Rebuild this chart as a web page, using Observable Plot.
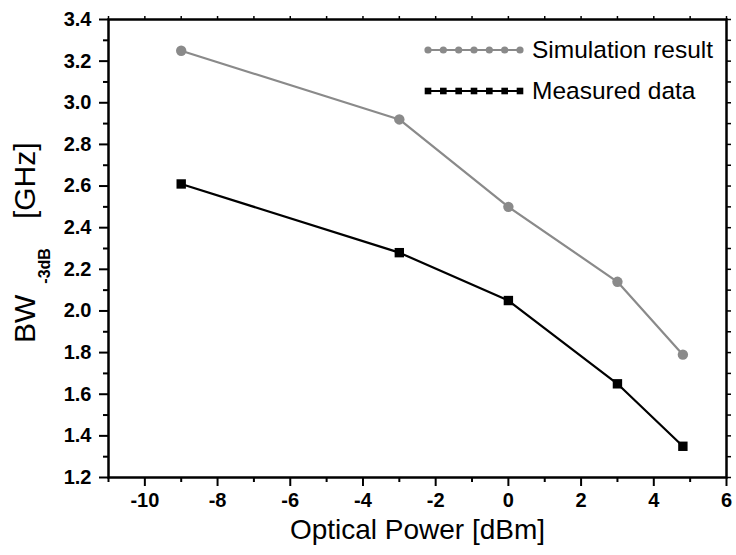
<!DOCTYPE html>
<html>
<head>
<meta charset="utf-8">
<script src="https://cdn.jsdelivr.net/npm/d3@7"></script>
<script src="https://cdn.jsdelivr.net/npm/@observablehq/plot@0.6"></script>
<style>
  html, body { margin: 0; padding: 0; background: #fff; }
  #chart svg { display: block; }
</style>
</head>
<body>
<div id="chart"></div>
<script>
// ---- data ----
const opticalPower = [-9, -3, 0, 3, 4.8];
const simulationResult = [3.25, 2.92, 2.50, 2.14, 1.79];
const measuredData = [2.61, 2.28, 2.05, 1.65, 1.35];
const seriesNames = ["Simulation result", "Measured data"];
const xMajorTicks = [-10, -8, -6, -4, -2, 0, 2, 4, 6];
const xMinorTicks = [-11, -9, -7, -5, -3, -1, 1, 3, 5];
const yMajorTicks = [1.2, 1.4, 1.6, 1.8, 2.0, 2.2, 2.4, 2.6, 2.8, 3.0, 3.2, 3.4];
const yMinorTicks = [1.3, 1.5, 1.7, 1.9, 2.1, 2.3, 2.5, 2.7, 2.9, 3.1, 3.3];
const xTitle = "Optical Power [dBm]";
const yTitleMain = "BW";
const yTitleSub = "-3dB";
const yTitleUnit = "[GHz]";

const grayColor = "#8a8a8a";
const font = "'Liberation Sans', Arial, Helvetica, sans-serif";

const sim = opticalPower.map((x, i) => ({x, y: simulationResult[i]}));
const meas = opticalPower.map((x, i) => ({x, y: measuredData[i]}));
const allXTicks = [...xMajorTicks, ...xMinorTicks];
const allYTicks = [...yMajorTicks, ...yMinorTicks];

const chart = Plot.plot({
  width: 736,
  height: 555,
  marginLeft: 108,
  marginRight: 10,
  marginTop: 19,
  marginBottom: 78,
  style: {fontFamily: font, background: "#fff", color: "#000"},
  x: {domain: [-11, 6]},
  y: {domain: [1.2, 3.4]},
  marks: [
    Plot.axisX(xMajorTicks, {tickSize: 9, tickPadding: 6, strokeWidth: 2, fontSize: 20, fontWeight: "bold",
      tickFormat: d => String(d), label: null}),
    Plot.axisX(xMinorTicks, {tickSize: 5, strokeWidth: 2, text: null, label: null}),
    Plot.axisX(allXTicks, {anchor: "top", tickSize: 4, strokeWidth: 1.5, text: null, label: null}),
    Plot.axisY(yMajorTicks, {tickSize: 9, tickPadding: 8, strokeWidth: 2, fontSize: 20, fontWeight: "bold",
      tickFormat: d => d.toFixed(1), label: null}),
    Plot.axisY(yMinorTicks, {tickSize: 5, strokeWidth: 2, text: null, label: null}),
    Plot.axisY(allYTicks, {anchor: "right", tickSize: 4, strokeWidth: 1.5, text: null, label: null}),
    Plot.frame({stroke: "#000", strokeWidth: 2.5}),
    Plot.line(sim, {x: "x", y: "y", stroke: grayColor, strokeWidth: 2.2}),
    Plot.dot(sim, {x: "x", y: "y", r: 5.2, fill: grayColor, stroke: "none"}),
    Plot.line(meas, {x: "x", y: "y", stroke: "#000", strokeWidth: 2.2}),
    Plot.dot(meas, {x: "x", y: "y", symbol: "square", r: 5.3, fill: "#000", stroke: "none"}),
    Plot.text([xTitle], {frameAnchor: "bottom", dy: 53, lineAnchor: "middle", fontSize: 28, text: d => d})
  ]
});

document.getElementById("chart").appendChild(chart);

// ---- y title with subscript ----
const svg = d3.select(chart);
const yt = svg.append("text")
  .attr("transform", "translate(35,343) rotate(-90)")
  .attr("font-family", font)
  .attr("font-size", 30)
  .attr("fill", "#000")
  .attr("text-anchor", "start");
yt.append("tspan").text(yTitleMain);
yt.append("tspan").attr("dx", 11).attr("dy", 15).attr("font-size", 16).attr("font-weight", "bold").text(yTitleSub);
yt.append("tspan").attr("dx", 29).attr("dy", -15).text(yTitleUnit);

// ---- legend ----
const legend = svg.append("g").attr("font-family", font);
const legendRows = [
  {name: seriesNames[0], color: grayColor, shape: "circle", cy: 50},
  {name: seriesNames[1], color: "#000", shape: "square", cy: 91}
];
const sampleX0 = 425, sampleX1 = 523, nMarkers = 7;
legendRows.forEach(row => {
  legend.append("line")
    .attr("x1", sampleX0).attr("x2", sampleX1)
    .attr("y1", row.cy).attr("y2", row.cy)
    .attr("stroke", row.color).attr("stroke-width", 2.2);
  d3.range(nMarkers).forEach(i => {
    const mx = sampleX0 + 3 + i * (sampleX1 - sampleX0 - 6) / (nMarkers - 1);
    if (row.shape === "circle") {
      legend.append("circle").attr("cx", mx).attr("cy", row.cy).attr("r", 3.6).attr("fill", row.color);
    } else {
      legend.append("rect").attr("x", mx - 3.3).attr("y", row.cy - 3.3).attr("width", 6.6).attr("height", 6.6).attr("fill", row.color);
    }
  });
  legend.append("text")
    .attr("x", 532).attr("y", row.cy + 8)
    .attr("text-anchor", "start")
    .attr("font-size", 24.5).attr("fill", "#000")
    .text(row.name);
});
</script>
</body>
</html>
